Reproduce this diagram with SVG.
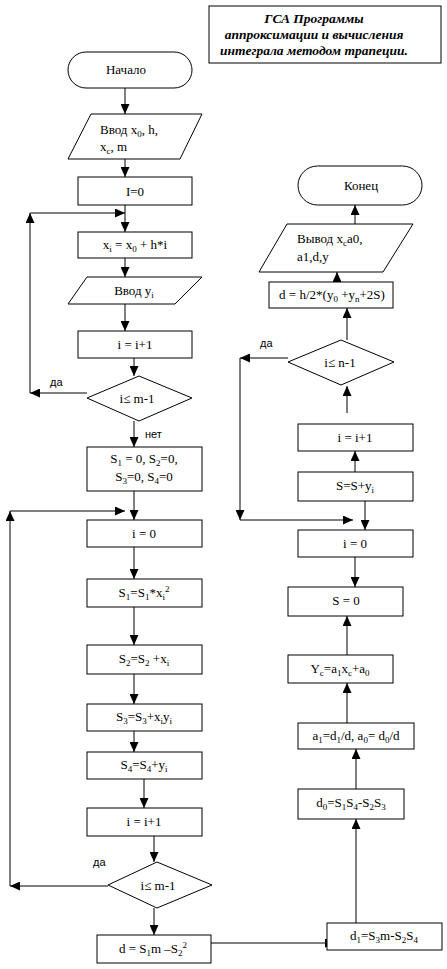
<svg xmlns="http://www.w3.org/2000/svg" width="447" height="969" viewBox="0 0 447 969">
<style>
.b{fill:#fff;stroke:#000;stroke-width:1}
.t{font-family:"Liberation Serif","Times New Roman",serif;font-size:13px;fill:#000}
.m{text-anchor:middle}
.s{font-size:9px}
.l{font-family:"Liberation Sans",Arial,sans-serif;font-size:11px;fill:#000}
.c line,.c polyline{stroke:#000;stroke-width:1;fill:none}
.h{font-family:"Liberation Serif","Times New Roman",serif;font-size:13.5px;font-weight:bold;font-style:italic;text-anchor:middle}
</style>
<defs>
<marker id="a" markerUnits="userSpaceOnUse" markerWidth="10" markerHeight="9" refX="10" refY="4.5" orient="auto">
<path d="M0,0 L10,4.5 L0,9 z" fill="#000"/>
</marker>
</defs>
<rect width="447" height="969" fill="#fff"/>
<g id="title">
<rect class="b" x="209" y="6" width="232" height="57"/>
<text class="h" x="314" y="23">ГСА Программы</text>
<text class="h" x="314" y="39">аппроксимации и вычисления</text>
<text class="h" x="314" y="55">интеграла методом трапеции.</text>
</g>
<g class="c">
<line x1="125" y1="88" x2="125" y2="114" marker-end="url(#a)"/>
<line x1="125" y1="159" x2="125" y2="177" marker-end="url(#a)"/>
<line x1="125" y1="205" x2="125" y2="232" marker-end="url(#a)"/>
<polyline points="87,393 30,393" marker-end="url(#a)"/>
<polyline points="30,393 30,213" marker-end="url(#a)"/>
<line x1="30" y1="213" x2="125" y2="213" marker-end="url(#a)"/>
<line x1="125" y1="258" x2="125" y2="277" marker-end="url(#a)"/>
<line x1="125" y1="304" x2="125" y2="331" marker-end="url(#a)"/>
<line x1="134" y1="358" x2="134" y2="376" marker-end="url(#a)"/>
<line x1="134" y1="421" x2="134" y2="447" marker-end="url(#a)"/>
<line x1="134" y1="491" x2="134" y2="520" marker-end="url(#a)"/>
<line x1="108" y1="886" x2="10" y2="886" marker-end="url(#a)"/>
<line x1="10" y1="886" x2="10" y2="511" marker-end="url(#a)"/>
<line x1="10" y1="511" x2="125" y2="511" marker-end="url(#a)"/>
<line x1="134" y1="547" x2="134" y2="579" marker-end="url(#a)"/>
<line x1="134" y1="607" x2="134" y2="645" marker-end="url(#a)"/>
<line x1="134" y1="674" x2="134" y2="704" marker-end="url(#a)"/>
<line x1="134" y1="731" x2="134" y2="752" marker-end="url(#a)"/>
<line x1="144" y1="779" x2="144" y2="808" marker-end="url(#a)"/>
<line x1="154" y1="836" x2="154" y2="862" marker-end="url(#a)"/>
<line x1="154" y1="908" x2="154" y2="935" marker-end="url(#a)"/>
<line x1="211" y1="943" x2="335" y2="943" marker-end="url(#a)"/>
<line x1="356" y1="923" x2="356" y2="819" marker-end="url(#a)"/>
<line x1="356" y1="789" x2="356" y2="749" marker-end="url(#a)"/>
<line x1="347" y1="723" x2="347" y2="683" marker-end="url(#a)"/>
<line x1="347" y1="655" x2="347" y2="616" marker-end="url(#a)"/>
<line x1="355" y1="557" x2="355" y2="587" marker-end="url(#a)"/>
<line x1="365" y1="501" x2="365" y2="530" marker-end="url(#a)"/>
<line x1="288" y1="358" x2="240" y2="358" marker-end="url(#a)"/>
<line x1="240" y1="358" x2="240" y2="520" marker-end="url(#a)"/>
<line x1="240" y1="520" x2="353" y2="520" marker-end="url(#a)"/>
<line x1="355" y1="472" x2="355" y2="451" marker-end="url(#a)"/>
<line x1="347" y1="413" x2="347" y2="386" marker-end="url(#a)"/>
<line x1="347" y1="340" x2="347" y2="308" marker-end="url(#a)"/>
<line x1="337" y1="282" x2="337" y2="272" marker-end="url(#a)"/>
<line x1="355" y1="224" x2="355" y2="205" marker-end="url(#a)"/>
</g>
<g id="labels">
<text class="l" x="50" y="386">да</text>
<text class="l" x="145" y="438">нет</text>
<text class="l" x="93" y="866">да</text>
<text class="l" x="260" y="347">да</text>
</g>
<g id="start">
<rect class="b" x="68" y="52" width="124" height="36" rx="18"/>
<text class="t m" x="126" y="74">Начало</text>
</g>
<g id="input1">
<polygon class="b" points="91,114 202,114 180,159 68,159"/>
<text class="t" x="100" y="134">Ввод x<tspan class="s" dy="3">0</tspan><tspan dy="-3">, h,</tspan></text>
<text class="t" x="100" y="151">x<tspan class="s" dy="3">c</tspan><tspan dy="-3">, m</tspan></text>
</g>
<g id="init">
<rect class="b" x="78" y="177" width="114" height="28"/>
<text class="t m" x="135" y="196">I=0</text>
</g>
<g id="xi">
<rect class="b" x="78" y="232" width="114" height="26"/>
<text class="t m" x="135" y="249">x<tspan class="s" dy="3">i</tspan><tspan dy="-3"> = x</tspan><tspan class="s" dy="3">0</tspan><tspan dy="-3"> + h*i</tspan></text>
</g>
<g id="input2">
<polygon class="b" points="87,277 202,277 175,304 68,304"/>
<text class="t m" x="134" y="295">Ввод y<tspan class="s" dy="3">i</tspan></text>
</g>
<g id="inc1">
<rect class="b" x="78" y="331" width="114" height="27"/>
<text class="t m" x="135" y="349">i = i+1</text>
</g>
<g id="cond1">
<polygon class="b" points="139,376 192,398 139,421 87,398"/>
<text class="t m" x="137" y="403">i≤  m-1</text>
</g>
<g id="sinit">
<rect class="b" x="87" y="447" width="115" height="44"/>
<text class="t m" x="144" y="463">S<tspan class="s" dy="3">1</tspan><tspan dy="-3"> = 0, S</tspan><tspan class="s" dy="3">2</tspan><tspan dy="-3">=0,</tspan></text>
<text class="t m" x="144" y="481">S<tspan class="s" dy="3">3</tspan><tspan dy="-3">=0,  S</tspan><tspan class="s" dy="3">4</tspan><tspan dy="-3">=0</tspan></text>
</g>
<g id="i0a">
<rect class="b" x="87" y="520" width="115" height="27"/>
<text class="t m" x="144" y="538">i = 0</text>
</g>
<g id="s1">
<rect class="b" x="87" y="579" width="115" height="28"/>
<text class="t m" x="144" y="597">S<tspan class="s" dy="3">1</tspan><tspan dy="-3">=S</tspan><tspan class="s" dy="3">1</tspan><tspan dy="-3">*x</tspan><tspan class="s" dy="3">i</tspan><tspan class="s" dy="-8">2</tspan></text>
</g>
<g id="s2">
<rect class="b" x="87" y="645" width="115" height="29"/>
<text class="t m" x="144" y="663">S<tspan class="s" dy="3">2</tspan><tspan dy="-3">=S</tspan><tspan class="s" dy="3">2</tspan><tspan dy="-3"> +x</tspan><tspan class="s" dy="3">i</tspan></text>
</g>
<g id="s3">
<rect class="b" x="87" y="704" width="115" height="27"/>
<text class="t m" x="144" y="721">S<tspan class="s" dy="3">3</tspan><tspan dy="-3">=S</tspan><tspan class="s" dy="3">3</tspan><tspan dy="-3">+x</tspan><tspan class="s" dy="3">i</tspan><tspan dy="-3">y</tspan><tspan class="s" dy="3">i</tspan></text>
</g>
<g id="s4">
<rect class="b" x="87" y="752" width="115" height="27"/>
<text class="t m" x="144" y="769">S<tspan class="s" dy="3">4</tspan><tspan dy="-3">=S</tspan><tspan class="s" dy="3">4</tspan><tspan dy="-3">+y</tspan><tspan class="s" dy="3">i</tspan></text>
</g>
<g id="inc2">
<rect class="b" x="87" y="808" width="115" height="28"/>
<text class="t m" x="144" y="826">i = i+1</text>
</g>
<g id="cond2">
<polygon class="b" points="157,862 212,885 157,908 108,885"/>
<text class="t m" x="158" y="890">i≤  m-1</text>
</g>
<g id="d">
<rect class="b" x="97" y="935" width="114" height="28"/>
<text class="t m" x="153" y="953">d = S<tspan class="s" dy="3">1</tspan><tspan dy="-3">m –S</tspan><tspan class="s" dy="3">2</tspan><tspan class="s" dy="-8">2</tspan></text>
</g>
<g id="d1">
<rect class="b" x="327" y="923" width="115" height="27"/>
<text class="t m" x="384" y="940">d<tspan class="s" dy="3">1</tspan><tspan dy="-3">=S</tspan><tspan class="s" dy="3">3</tspan><tspan dy="-3">m-S</tspan><tspan class="s" dy="3">2</tspan><tspan dy="-3">S</tspan><tspan class="s" dy="3">4</tspan></text>
</g>
<g id="d0">
<rect class="b" x="298" y="789" width="106" height="30"/>
<text class="t m" x="351" y="807">d<tspan class="s" dy="3">0</tspan><tspan dy="-3">=S</tspan><tspan class="s" dy="3">1</tspan><tspan dy="-3">S</tspan><tspan class="s" dy="3">4</tspan><tspan dy="-3">-S</tspan><tspan class="s" dy="3">2</tspan><tspan dy="-3">S</tspan><tspan class="s" dy="3">3</tspan></text>
</g>
<g id="a1">
<rect class="b" x="298" y="723" width="116" height="26"/>
<text class="t m" x="356" y="740">a<tspan class="s" dy="3">1</tspan><tspan dy="-3">=d</tspan><tspan class="s" dy="3">1</tspan><tspan dy="-3">/d,  a</tspan><tspan class="s" dy="3">0</tspan><tspan dy="-3">= d</tspan><tspan class="s" dy="3">0</tspan><tspan dy="-3">/d</tspan></text>
</g>
<g id="yc">
<rect class="b" x="288" y="655" width="105" height="28"/>
<text class="t m" x="340" y="673">Y<tspan class="s" dy="3">c</tspan><tspan dy="-3">=a</tspan><tspan class="s" dy="3">1</tspan><tspan dy="-3">x</tspan><tspan class="s" dy="3">c</tspan><tspan dy="-3">+a</tspan><tspan class="s" dy="3">0</tspan></text>
</g>
<g id="s0">
<rect class="b" x="288" y="587" width="115" height="29"/>
<text class="t m" x="346" y="605">S = 0</text>
</g>
<g id="i0b">
<rect class="b" x="298" y="530" width="115" height="27"/>
<text class="t m" x="355" y="548">i = 0</text>
</g>
<g id="ssum">
<rect class="b" x="298" y="472" width="115" height="29"/>
<text class="t m" x="355" y="490">S=S+y<tspan class="s" dy="3">i</tspan></text>
</g>
<g id="inc3">
<rect class="b" x="298" y="424" width="115" height="27"/>
<text class="t m" x="355" y="442">i = i+1</text>
</g>
<g id="cond3">
<polygon class="b" points="341,340 394,362 341,385 288,362"/>
<text class="t m" x="340" y="367">i≤  n-1</text>
</g>
<g id="dint">
<rect class="b" x="269" y="282" width="124" height="26"/>
<text class="t m" x="332" y="299">d = h/2*(y<tspan class="s" dy="3">0</tspan><tspan dy="-3"> +y</tspan><tspan class="s" dy="3">n</tspan><tspan dy="-3">+2S)</tspan></text>
</g>
<g id="output">
<polygon class="b" points="287,224 413,224 383,272 259,272"/>
<text class="t" x="297" y="243">Вывод  x<tspan class="s" dy="3">c</tspan><tspan dy="-3">a0,</tspan></text>
<text class="t" x="297" y="261">a1,d,y</text>
</g>
<g id="end">
<rect class="b" x="298" y="166" width="124" height="39" rx="19.5"/>
<text class="t m" x="361" y="190">Конец</text>
</g>
</svg>
